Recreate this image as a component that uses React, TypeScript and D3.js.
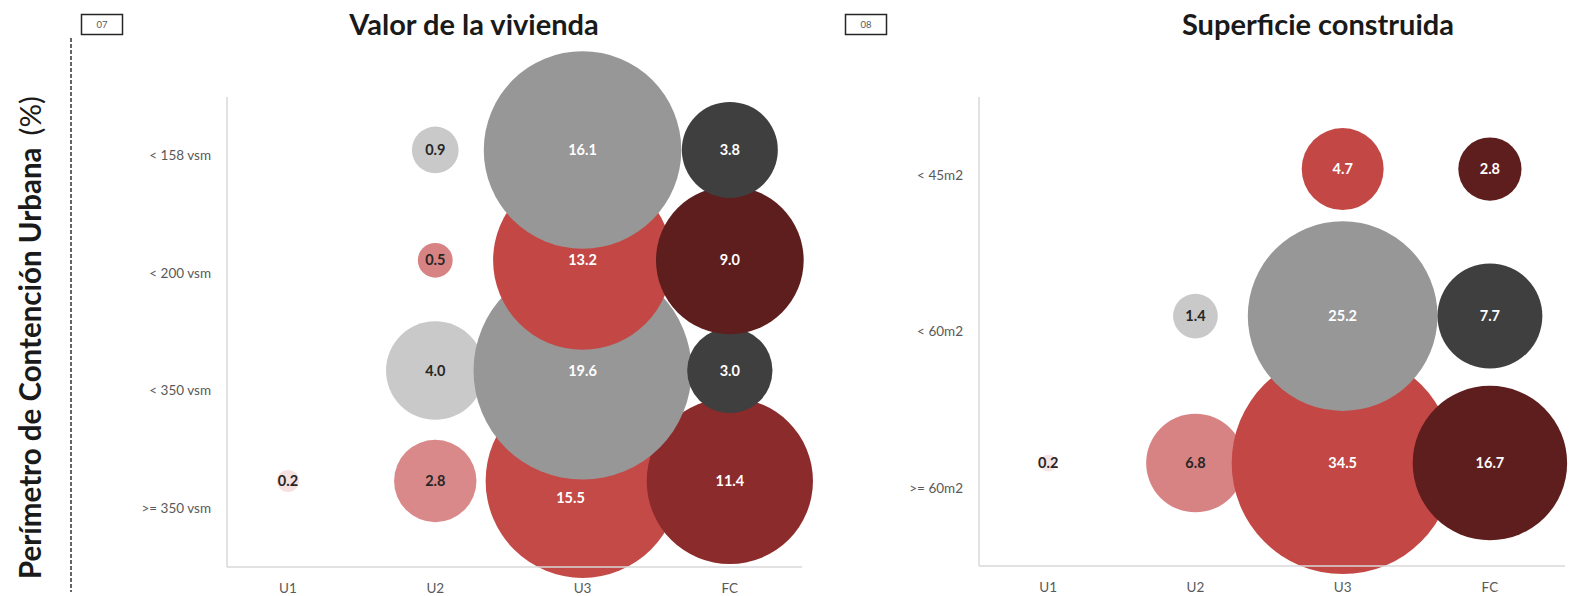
import React from "react";
import * as d3 from "d3";

// ---------- DATA ----------
const X_CATS = ["U1", "U2", "U3", "FC"];

const VALOR_ROWS = ["< 158 vsm", "< 200 vsm", "< 350 vsm", ">= 350 vsm"];
const VALOR_U1 = [null, null, null, 0.2];
const VALOR_U2 = [0.9, 0.5, 4.0, 2.8];
const VALOR_U3 = [16.1, 13.2, 19.6, 15.5];
const VALOR_FC = [3.8, 9.0, 3.0, 11.4];
const VALOR_TONES = ["gray", "red", "gray", "redMid"];

const SUPER_ROWS = ["< 45m2", "< 60m2", ">= 60m2"];
const SUPER_U1 = [null, null, 0.2];
const SUPER_U2 = [null, 1.4, 6.8];
const SUPER_U3 = [4.7, 25.2, 34.5];
const SUPER_FC = [2.8, 7.7, 16.7];
const SUPER_TONES = ["red", "gray", "red"];

const PALETTES: Record<string, string[]> = {
  gray: ["#ececec", "#c9c9c9", "#979797", "#3f3f3f"],
  red: ["#f7e4e4", "#d88383", "#c34845", "#5f1e1e"],
  redMid: ["#f7e0e0", "#d98989", "#c44a48", "#8c2b2b"],
};
const LABEL_COLORS = ["#262626", "#262626", "#ffffff", "#ffffff"];

const FONT = "Lato, 'Open Sans', sans-serif";

type PanelProps = {
  rows: string[];
  cols: (number | null)[][];
  tones: string[];
  frame: { x0: number; x1: number; y0: number; y1: number };
  xDomain: [number, number];
  yDomain: [number, number];
  maxR: number;
  nudges?: Record<string, [number, number]>;
};

function BubblePanel({ rows, cols, tones, frame, xDomain, yDomain, maxR, nudges = {} }: PanelProps) {
  const x = d3.scaleLinear().domain(xDomain).range([frame.x0, frame.x1]);
  const y = d3.scaleLinear().domain(yDomain).range([frame.y1, frame.y0]);
  const allVals = cols.flat().filter((v): v is number => v != null);
  const r = d3.scaleSqrt().domain([0, d3.max(allVals) as number]).range([0, maxR]);
  const band = d3.scaleBand().domain(rows).range([frame.y0, frame.y1]);
  const n = rows.length;

  type Cell = { i: number; j: number; v: number; cx: number; cy: number };
  const cells: Cell[] = [];
  for (let i = n - 1; i >= 0; i--) {
    for (let j = 0; j < cols.length; j++) {
      const v = cols[j][i];
      if (v == null) continue;
      cells.push({ i, j, v, cx: x(j + 1), cy: y(n - i) });
    }
  }

  return (
    <g>
      {cells.map((c) => (
        <circle
          key={`b${c.i}-${c.j}`}
          cx={c.cx}
          cy={c.cy}
          r={r(c.v)}
          fill={PALETTES[tones[c.i]][c.j]}
        />
      ))}
      <line x1={frame.x0} x2={frame.x0} y1={frame.y0} y2={frame.y1} stroke="#d9d9d9" strokeWidth={1.5} />
      <line x1={frame.x0} x2={frame.x1} y1={frame.y1} y2={frame.y1} stroke="#d9d9d9" strokeWidth={1.5} />
      {rows.map((lab) => (
        <text
          key={lab}
          x={frame.x0 - 16}
          y={(band(lab) as number) + band.bandwidth() / 2}
          dy="0.35em"
          textAnchor="end"
          fontFamily={FONT}
          fontSize={13.5}
          fill="#595959"
        >
          {lab}
        </text>
      ))}
      {X_CATS.map((lab, j) => (
        <text
          key={lab}
          x={x(j + 1)}
          y={frame.y1 + 21}
          dy="0.35em"
          textAnchor="middle"
          fontFamily={FONT}
          fontSize={13.5}
          fill="#595959"
        >
          {lab}
        </text>
      ))}
      {cells.map((c) => {
        const key = `${c.i}-${c.j}`;
        const nd = nudges[key] || [0, 0];
        return (
          <text
            key={`t${key}`}
            x={c.cx + nd[0]}
            y={c.cy + nd[1]}
            dy="0.35em"
            textAnchor="middle"
            fontFamily={FONT}
            fontWeight={700}
            fontSize={14.5}
            fill={LABEL_COLORS[c.j]}
          >
            {c.v.toFixed(1)}
          </text>
        );
      })}
    </g>
  );
}

export default function App() {
  return (
    <svg
      width={1575}
      height={596}
      style={{ position: "absolute", left: 0, top: 0, background: "#ffffff" }}
    >
      <rect x={0} y={0} width={1575} height={596} fill="#ffffff" />
      {/* vertical axis title */}
      <text
        transform="translate(41,579) rotate(-90)"
        fontFamily={FONT}
        fontSize={29.5}
        fontWeight={700}
        fill="#1a1a1a"
      >
        <tspan>Perímetro de Contención Urbana</tspan>
        <tspan fontWeight={400} dx={12}>(%)</tspan>
      </text>
      <line x1={71} x2={71} y1={38} y2={592} stroke="#333333" strokeWidth={1.5} strokeDasharray="4,2" />

      {/* box labels */}
      <rect x={81.5} y={14.5} width={41} height={20} fill="none" stroke="#262626" strokeWidth={1.5} />
      <text x={102} y={25} dy="0.35em" textAnchor="middle" fontFamily={FONT} fontSize={9.5} fill="#595959">07</text>
      <rect x={845.5} y={14.5} width={41} height={20} fill="none" stroke="#262626" strokeWidth={1.5} />
      <text x={866} y={25} dy="0.35em" textAnchor="middle" fontFamily={FONT} fontSize={9.5} fill="#595959">08</text>

      <BubblePanel
        rows={VALOR_ROWS}
        cols={[VALOR_U1, VALOR_U2, VALOR_U3, VALOR_FC]}
        tones={VALOR_TONES}
        frame={{ x0: 227, x1: 802, y0: 97, y1: 567 }}
        xDomain={[0.586, 4.49]}
        yDomain={[0.22, 4.48]}
        maxR={109}
        nudges={{ "3-2": [-12, 17] }}
      />
      <BubblePanel
        rows={SUPER_ROWS}
        cols={[SUPER_U1, SUPER_U2, SUPER_U3, SUPER_FC]}
        tones={SUPER_TONES}
        frame={{ x0: 979, x1: 1565, y0: 97, y1: 566 }}
        xDomain={[0.53, 4.51]}
        yDomain={[0.3, 3.49]}
        maxR={111}
      />

      {/* titles */}
      <text x={474} y={35} textAnchor="middle" fontFamily={FONT} fontSize={29} fontWeight={700} fill="#1a1a1a">
        Valor de la vivienda
      </text>
      <text x={1318} y={35} textAnchor="middle" fontFamily={FONT} fontSize={29} fontWeight={700} fill="#1a1a1a">
        Superficie construida
      </text>
    </svg>
  );
}
